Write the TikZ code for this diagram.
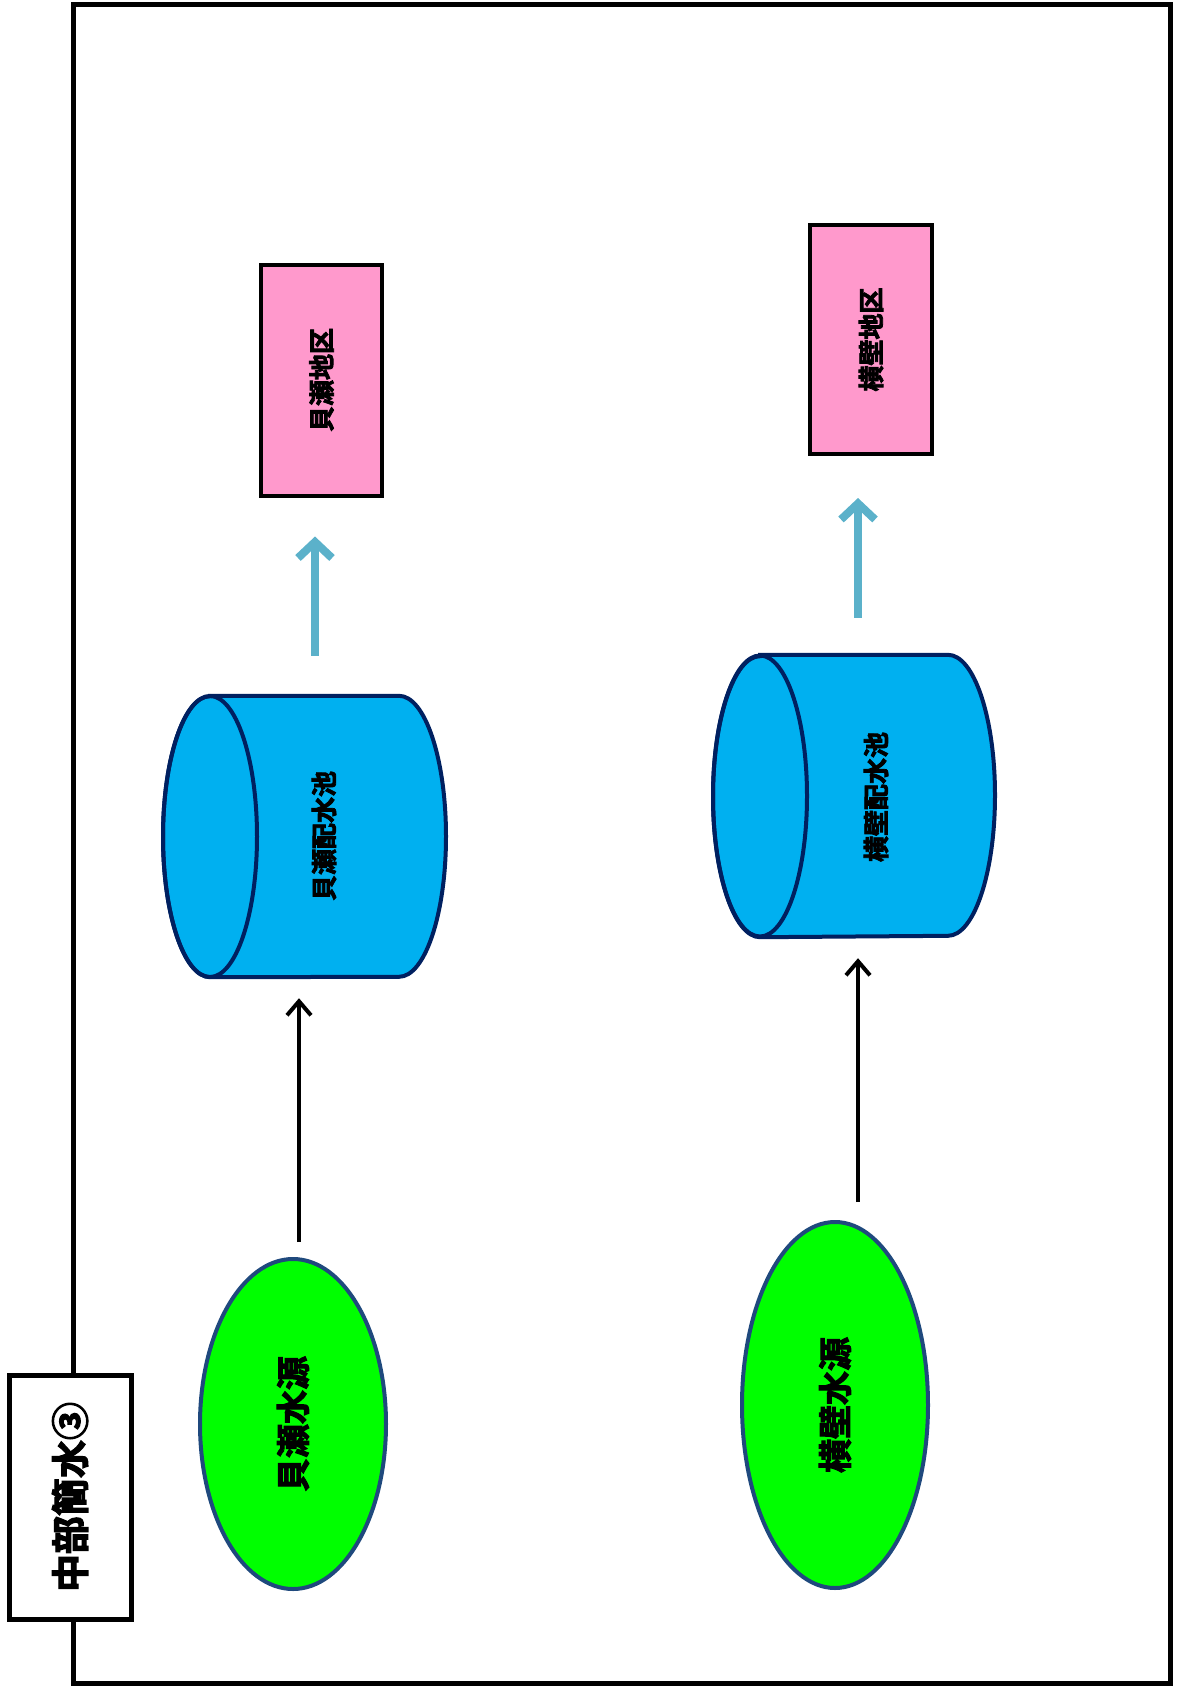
\documentclass[tikz,border=0pt]{standalone}
\usepackage{fontspec}
\usepackage{tikz}
\usetikzlibrary{shapes.geometric,arrows.meta}
\newfontfamily\jp{Noto Sans CJK JP}[BoldFont={Noto Sans CJK JP Bold}, BoldFeatures={FakeBold=3}]
\definecolor{SourceGreen}{HTML}{00FF00}
\definecolor{SourceEdge}{HTML}{1F497D}
\definecolor{PoolBlue}{HTML}{00B0F0}
\definecolor{PoolEdge}{HTML}{002060}
\definecolor{AreaPink}{HTML}{FF99CC}
\definecolor{FlowTeal}{HTML}{5BB1CA}
\tikzset{
  source/.style={ellipse, draw=SourceEdge, line width=4pt, fill=SourceGreen,
    minimum width=186pt, minimum height=330pt, inner sep=0pt},
  area/.style={draw=black, line width=4pt, fill=AreaPink, inner sep=0pt},
  lbl/.style={font=\jp\bfseries, inner sep=0pt},
  feed/.style={line width=4pt, -{Straight Barb[length=14pt,width=24pt]}},
  supply/.style={FlowTeal, line width=8pt, -{Straight Barb[length=16pt,width=34pt]}}
}

\begin{document}
\begin{tikzpicture}[x=1pt, y=-1pt]
    \useasboundingbox (0,0) rectangle (1178,1692);
    % Frame
    \draw[line width=5pt] (73,4) rectangle (1170,1683);
    \node[draw, line width=5pt, fill=white, minimum width=122pt,
    minimum height=244pt, inner sep=0pt, font=\jp\bfseries\fontsize{38pt}{40pt}\selectfont]
    (title) at (70,1497) {\rotatebox{90}{中部簡水③}};
    % Sources
    \node[source, minimum height=330pt, font=\jp\bfseries\fontsize{34pt}{36pt}\selectfont]
    (srcA) at (293,1424) {\rotatebox{90}{貝瀬水源}};
    \node[source, minimum height=366pt, font=\jp\bfseries\fontsize{34pt}{36pt}\selectfont]
    (srcB) at (835,1405) {\rotatebox{90}{横壁水源}};
    % Pools (cylinders)
    \node[minimum width=283pt, minimum height=281pt, inner sep=0pt] (poolA) at (304.5,836.5) {};
    \node[minimum width=283pt, minimum height=282pt, inner sep=0pt] (poolB) at (854,796) {};
    \foreach \p/\l/\r in {poolA/210/399, poolB/760/948} {
      \filldraw[fill=PoolBlue, draw=PoolEdge, line width=4pt]
        (\l,0 |- \p.north) -- (\r,0 |- \p.north)
        arc[start angle=-90, end angle=90, x radius=47, y radius=140.5]
        -- (\l,0 |- \p.south)
        arc[start angle=90, end angle=270, x radius=47, y radius=140.5] -- cycle;
      \draw[draw=PoolEdge, line width=4pt] (\l,0 |- \p.center)
        ellipse[x radius=47, y radius=140.5];
    }
    \node[lbl, font=\jp\bfseries\fontsize{26pt}{28pt}\selectfont] (poolAtext) at (324,836)
    {\rotatebox{90}{貝瀬配水池}};
    \node[lbl, font=\jp\bfseries\fontsize{26pt}{28pt}\selectfont] (poolBtext) at (876,797)
    {\rotatebox{90}{横壁配水池}};
    % Areas
    \node[area, minimum width=121pt, minimum height=231pt,
    font=\jp\bfseries\fontsize{26pt}{28pt}\selectfont] (areaA) at (321.5,380)
    {\rotatebox{90}{貝瀬地区}};
    \node[area, minimum width=122pt, minimum height=229pt,
    font=\jp\bfseries\fontsize{26pt}{28pt}\selectfont] (areaB) at (871,339.5)
    {\rotatebox{90}{横壁地区}};
    % Connectors
    \draw[feed, shorten <=15pt, shorten >=21pt] ([xshift=6pt]srcA.north) -- ([xshift=-5.5pt]poolA.south);
    \draw[feed, shorten <=18pt, shorten >=21pt] ([xshift=23pt]srcB.north) -- ([xshift=4pt]poolB.south);
    \draw[supply, shorten <=40pt, shorten >=39pt] ([xshift=10.5pt]poolA.north) -- ([xshift=-6.5pt]areaA.south);
    \draw[supply, shorten <=37pt, shorten >=42pt] ([xshift=4pt]poolB.north) -- ([xshift=-13pt]areaB.south);
  \end{tikzpicture}
\end{document}
